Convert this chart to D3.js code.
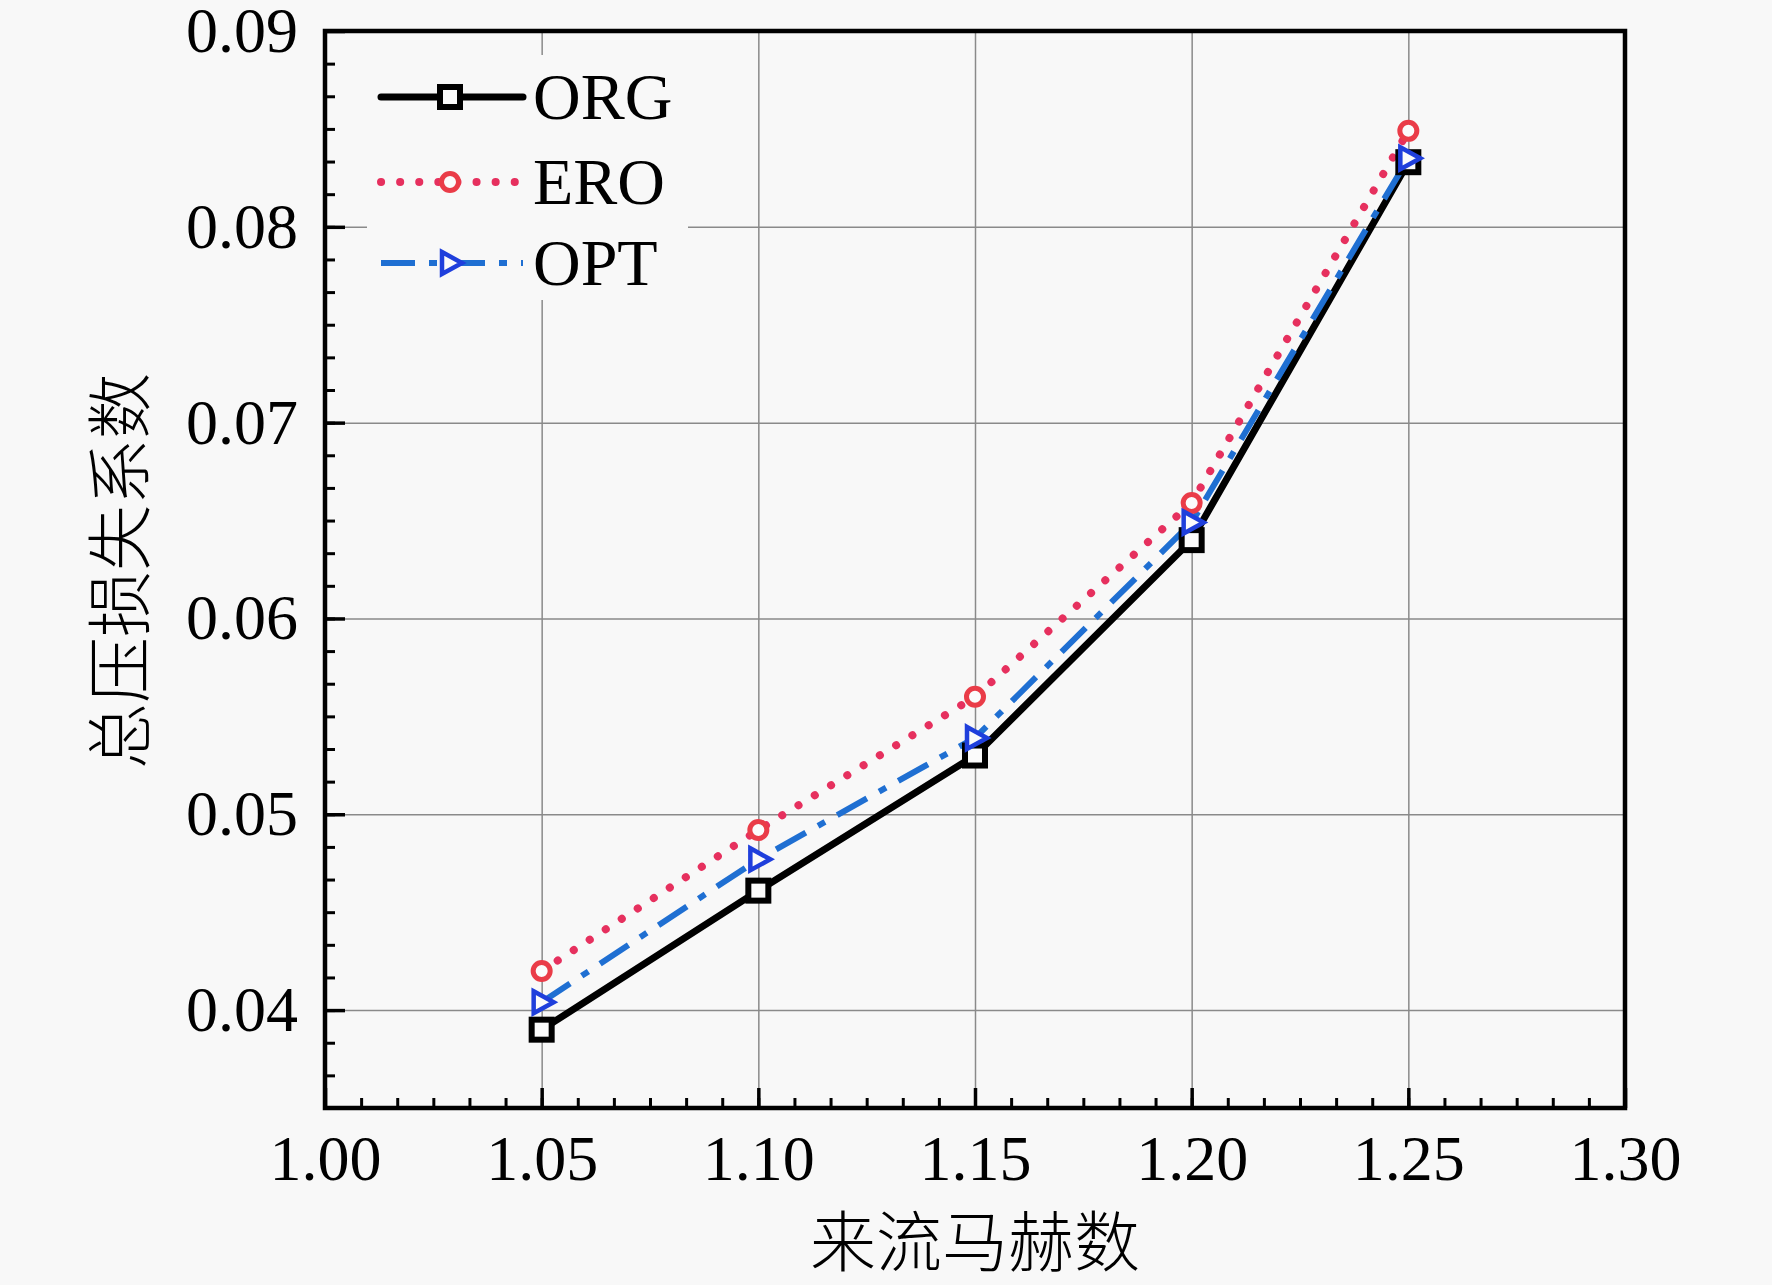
<!DOCTYPE html>
<html>
<head>
<meta charset="utf-8">
<script src="https://cdn.jsdelivr.net/npm/d3@7"></script>
<style>
  html, body { margin: 0; padding: 0; background: #f8f8f8; }
  svg { display: block; }
</style>
</head>
<body>
<svg id="chart" width="1772" height="1285"></svg>
<script>
// data
const mach = [1.05, 1.10, 1.15, 1.20, 1.25];
const org = [0.0390, 0.0461, 0.0530, 0.0640, 0.0833];
const ero = [0.0420, 0.0492, 0.0560, 0.0659, 0.0849];
const opt = [0.0404, 0.0477, 0.0539, 0.0649, 0.0835];

const xTicks = [1.00, 1.05, 1.10, 1.15, 1.20, 1.25, 1.30];
const yTicks = [0.04, 0.05, 0.06, 0.07, 0.08, 0.09];
const seriesNames = ["ORG", "ERO", "OPT"];

const margin = { left: 325, right: 147, top: 31, bottom: 177 };
const width = 1772 - margin.left - margin.right;
const height = 1285 - margin.top - margin.bottom;

const svg = d3.select("#chart");
const g = svg.append("g").attr("transform", `translate(${margin.left},${margin.top})`);

const x = d3.scaleLinear().domain([1.00, 1.30]).range([0, width]);
const y = d3.scaleLinear().domain([0.035, 0.09]).range([height, 0]);

g.append("rect")
  .attr("width", width).attr("height", height)
  .attr("fill", "#f8f8f8");

// grid
g.append("g")
  .attr("transform", `translate(0,${height})`)
  .call(d3.axisBottom(x).tickValues(xTicks.slice(1, -1)).tickSize(-height).tickFormat(""))
  .call(s => s.select(".domain").remove())
  .call(s => s.selectAll("line").attr("stroke", "#8a8a8a").attr("stroke-width", 1.5));
g.append("g")
  .call(d3.axisLeft(y).tickValues(yTicks.slice(0, -1)).tickSize(-width).tickFormat(""))
  .call(s => s.select(".domain").remove())
  .call(s => s.selectAll("line").attr("stroke", "#8a8a8a").attr("stroke-width", 1.5));

// minor ticks
const xMinor = d3.range(0, 37).map(i => 1.00 + i * 0.05 / 6);
const yMinor = d3.range(0, 34).map(i => 0.035 + i * 0.01 / 6);
g.append("g")
  .attr("transform", `translate(0,${height})`)
  .call(d3.axisBottom(x).tickValues(xMinor).tickSize(-10).tickFormat(""))
  .call(s => s.select(".domain").remove())
  .call(s => s.selectAll("line").attr("stroke", "#000").attr("stroke-width", 3));
g.append("g")
  .call(d3.axisLeft(y).tickValues(yMinor).tickSize(-10).tickFormat(""))
  .call(s => s.select(".domain").remove())
  .call(s => s.selectAll("line").attr("stroke", "#000").attr("stroke-width", 3));

// major ticks + labels
g.append("g")
  .attr("transform", `translate(0,${height})`)
  .call(d3.axisBottom(x).tickValues(xTicks).tickSize(-20).tickPadding(27).tickFormat(d3.format(".2f")))
  .call(s => s.select(".domain").remove())
  .call(s => s.selectAll("line").attr("stroke", "#000").attr("stroke-width", 3.5))
  .call(s => s.selectAll("text").attr("fill", "#000")
    .style("font-family", "'Liberation Serif', 'Times New Roman', serif").style("font-size", "64px"));
g.append("g")
  .call(d3.axisLeft(y).tickValues(yTicks).tickSize(-20).tickPadding(27).tickFormat(d3.format(".2f")))
  .call(s => s.select(".domain").remove())
  .call(s => s.selectAll("line").attr("stroke", "#000").attr("stroke-width", 3.5))
  .call(s => s.selectAll("text").attr("fill", "#000")
    .style("font-family", "'Liberation Serif', 'Times New Roman', serif").style("font-size", "64px"));

// frame
g.append("rect")
  .attr("width", width).attr("height", height)
  .attr("fill", "none").attr("stroke", "#000").attr("stroke-width", 4.5);

const styles = {
  ORG: { color: "#000", width: 7, dash: null, cap: "butt", marker: "square", mcolor: "#000" },
  ERO: { color: "#e6305e", width: 8, dash: "0.1 19", cap: "round", marker: "circle", mcolor: "#ea3c48" },
  OPT: { color: "#1f6fd2", width: 6, dash: "34 14 8 14", cap: "butt", marker: "triangle", mcolor: "#1f3fdc" }
};
const values = { ORG: org, ERO: ero, OPT: opt };

const line = d3.line().x(d => x(d[0])).y(d => y(d[1]));

function drawMarker(sel, type, color) {
  if (type === "square") {
    sel.append("rect").attr("x", -10).attr("y", -10).attr("width", 20).attr("height", 20)
      .attr("fill", "#fbfbfb").attr("stroke", color).attr("stroke-width", 6);
  } else if (type === "circle") {
    sel.append("circle").attr("r", 8.5)
      .attr("fill", "#fbfbfb").attr("stroke", color).attr("stroke-width", 5);
  } else {
    sel.append("path").attr("d", "M-8,-11L12,0L-8,11Z")
      .attr("fill", "#fbfbfb").attr("stroke", color).attr("stroke-width", 4.5)
      .attr("stroke-linejoin", "miter");
  }
}

seriesNames.forEach(name => {
  const st = styles[name];
  const pts = mach.map((m, i) => [m, values[name][i]]);
  g.append("path")
    .datum(pts)
    .attr("d", line)
    .attr("fill", "none")
    .attr("stroke", st.color)
    .attr("stroke-width", st.width)
    .attr("stroke-linecap", st.cap)
    .attr("stroke-linejoin", "round")
    .attr("stroke-dasharray", st.dash);
});
seriesNames.forEach(name => {
  const st = styles[name];
  const pts = mach.map((m, i) => [m, values[name][i]]);
  g.selectAll(null).data(pts).enter().append("g")
    .attr("transform", d => `translate(${x(d[0])},${y(d[1])})`)
    .each(function () { drawMarker(d3.select(this), st.marker, st.mcolor); });
});

// legend
const legend = svg.append("g");
legend.append("rect")
  .attr("x", 367).attr("y", 55).attr("width", 321).attr("height", 245)
  .attr("fill", "#f8f8f8");
const rowY = [97, 182, 263];
seriesNames.forEach((name, i) => {
  const st = styles[name];
  const row = legend.append("g").attr("transform", `translate(0,${rowY[i]})`);
  row.append("line")
    .attr("x1", 381).attr("x2", 523).attr("y1", 0).attr("y2", 0)
    .attr("stroke", st.color).attr("stroke-width", st.width)
    .attr("stroke-linecap", name === "ORG" ? "round" : st.cap)
    .attr("stroke-dasharray", st.dash);
  drawMarker(row.append("g").attr("transform", "translate(450,0)"), st.marker, st.mcolor);
  row.append("text")
    .attr("x", 533).attr("y", 22)
    .style("font-family", "'Liberation Serif', 'Times New Roman', serif")
    .style("font-size", "66px")
    .text(name);
});

// axis titles
svg.append("text")
  .attr("x", margin.left + x(1.15)).attr("y", 1266)
  .attr("text-anchor", "middle")
  .style("font-family", "'Noto Sans CJK SC', sans-serif")
  .style("font-size", "66px")
  .style("font-weight", 300)
  .text("来流马赫数");
svg.append("text")
  .attr("transform", "translate(144,571) rotate(-90)")
  .attr("text-anchor", "middle")
  .style("font-family", "'Noto Sans CJK SC', sans-serif")
  .style("font-size", "66px")
  .style("font-weight", 300)
  .text("总压损失系数");
</script>
</body>
</html>
